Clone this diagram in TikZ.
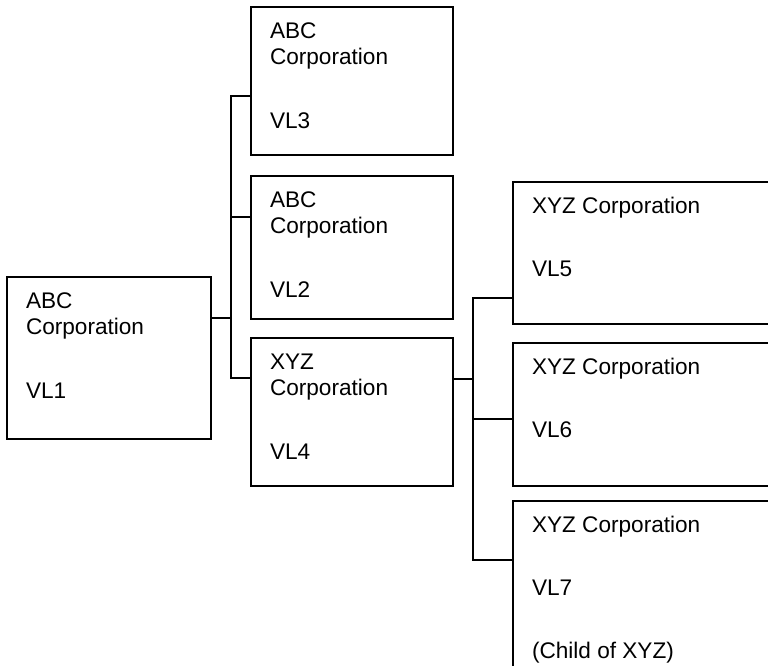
\documentclass[tikz,border=0pt]{standalone}
\usepackage{fontspec}
\setmainfont{Liberation Sans}
\usetikzlibrary{calc}

\begin{document}
\begin{tikzpicture}[x=1pt,y=-1pt,font=\fontsize{22.6}{26}\selectfont,
    corp/.style={draw,line width=1.7pt,anchor=north west,outer sep=0pt,inner xsep=19pt,inner ysep=15.5pt},
    link/.style={line width=1.7pt}]
                \useasboundingbox(0,0)rectangle(768,666);
                \clip(0,0)rectangle(768,666);
                \node[corp](vl1)at(7,277){\parbox[c][131pt][t]{166pt}{ABC\\Corporation\\[38pt]VL1}};
                \node[corp](vl3)at(251,7){\parbox[c][117pt][t]{164pt}{ABC\\Corporation\\[38pt]VL3}};
                \node[corp](vl2)at(251,176){\parbox[c][112pt][t]{164pt}{ABC\\Corporation\\[38pt]VL2}};
                \node[corp](vl4)at(251,338){\parbox[c][117pt][t]{164pt}{XYZ\\Corporation\\[38pt]VL4}};
                \node[corp](vl5)at(513,182){\parbox[c][111pt][t]{300pt}{XYZ Corporation\\[37pt]VL5}};
                \node[corp](vl6)at(513,343){\parbox[c][112pt][t]{300pt}{XYZ Corporation\\[37pt]VL6}};
                \node[corp](vl7)at(513,501){\parbox[c][200pt][t]{300pt}{XYZ Corporation\\[37pt]VL7\\[37pt](Child of XYZ)}};
                % first level bus
                \coordinate(j1)at(231,318);
                \coordinate(j3)at(231,96);
                \coordinate(j2)at(231,217);
                \coordinate(j4)at(231,378);
                \draw[link](vl1.east|-j1)--(j1);
                \draw[link](j3-|vl3.west)--(j3)--(j4)--(j4-|vl4.west);
                \draw[link](j2)--(j2-|vl2.west);
                % second level bus
                \coordinate(k4)at(473,379);
                \coordinate(k5)at(473,298);
                \coordinate(k6)at(473,419);
                \coordinate(k7)at(473,560);
                \draw[link](vl4.east|-k4)--(k4);
                \draw[link](k5-|vl5.west)--(k5)--(k7)--(k7-|vl7.west);
                \draw[link](k6)--(k6-|vl6.west);
            \end{tikzpicture}
\end{document}
